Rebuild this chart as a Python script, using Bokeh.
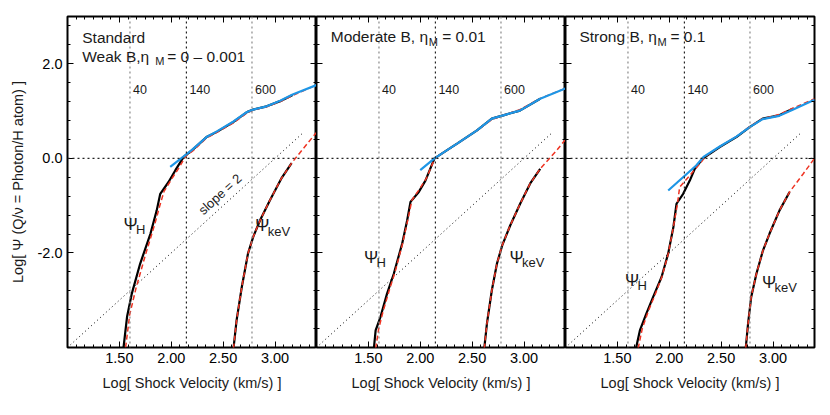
import numpy as np
from bokeh.plotting import figure
from bokeh.models import (Range1d, LinearAxis, FixedTicker, PrintfTickFormatter,
                          CustomJSTickFormatter, Span, Label)
from bokeh.layouts import row
from bokeh.embed import file_html
from bokeh.resources import INLINE

# ---------------- data ----------------
ref_velocities = [40, 140, 600]          # km/s, vertical guide lines
ref_labels = ["40", "140", "600"]
slope_x = [1.0, 3.26]
slope_y = [-4.0, 0.52]

x_major = [1.5, 2.0, 2.5, 3.0]
y_major = [-2.0, 0.0, 2.0]

# Panel 1: Standard, weak B
std_h_x = [1.54, 1.574, 1.62, 1.70, 1.80, 1.86, 1.894, 1.974, 2.04, 2.12, 2.20, 2.34, 2.44, 2.60, 2.73, 2.79, 2.92, 3.05, 3.17]
std_h_y = [-4.0, -3.35, -2.86, -2.23, -1.59, -1.10, -0.75, -0.50, -0.25, 0.03, 0.17, 0.45, 0.56, 0.77, 0.98, 1.03, 1.10, 1.21, 1.34]
std_hr_x = [1.56, 1.60, 1.66, 1.75, 1.84, 1.89, 1.93, 2.00, 2.08, 2.14, 2.22, 2.34, 2.44, 2.60, 2.73, 2.79, 2.92, 3.05, 3.20, 3.40]
std_hr_y = [-4.0, -3.30, -2.75, -2.05, -1.40, -1.00, -0.70, -0.45, -0.18, 0.05, 0.18, 0.43, 0.55, 0.75, 0.96, 1.02, 1.09, 1.20, 1.36, 1.55]
std_fit_x = [1.99, 2.12, 2.20, 2.34, 2.44, 2.60, 2.73, 2.79, 2.92, 3.05, 3.17, 3.40]
std_fit_y = [-0.18, 0.04, 0.18, 0.45, 0.57, 0.78, 0.98, 1.03, 1.10, 1.22, 1.35, 1.55]
std_k_x = [2.60, 2.63, 2.68, 2.74, 2.79, 2.856, 2.95, 3.06, 3.16]
std_k_y = [-4.02, -3.42, -2.72, -2.01, -1.66, -1.31, -0.89, -0.43, -0.10]
std_kr_x = [2.60, 2.63, 2.68, 2.74, 2.79, 2.856, 2.95, 3.06, 3.16, 3.27, 3.40]
std_kr_y = [-4.02, -3.42, -2.72, -2.01, -1.66, -1.31, -0.89, -0.43, -0.10, 0.20, 0.55]

# Panel 2: Moderate B
mod_h_x = [1.553, 1.57, 1.617, 1.68, 1.745, 1.826, 1.874, 1.906, 1.986, 2.05, 2.137, 2.355, 2.547, 2.69, 2.80, 2.96, 3.156]
mod_h_y = [-4.02, -3.64, -3.35, -2.86, -2.44, -1.80, -1.31, -0.92, -0.71, -0.47, 0.0, 0.31, 0.59, 0.84, 0.91, 1.01, 1.26]
mod_hr_x = [1.57, 1.60, 1.64, 1.70, 1.76, 1.83, 1.88, 1.92, 1.99, 2.06, 2.14, 2.355, 2.547, 2.69, 2.80, 2.96, 3.16, 3.40]
mod_hr_y = [-4.02, -3.60, -3.25, -2.80, -2.38, -1.80, -1.30, -0.88, -0.66, -0.42, 0.0, 0.31, 0.59, 0.82, 0.91, 1.03, 1.27, 1.48]
mod_fit_x = [2.00, 2.137, 2.355, 2.547, 2.69, 2.80, 2.96, 3.156, 3.40]
mod_fit_y = [-0.25, 0.0, 0.31, 0.59, 0.84, 0.91, 1.01, 1.26, 1.48]
mod_k_x = [2.617, 2.643, 2.69, 2.74, 2.79, 2.867, 2.963, 3.06, 3.156]
mod_k_y = [-4.02, -3.49, -2.79, -2.22, -1.84, -1.42, -0.96, -0.53, -0.22]
mod_kr_x = [2.617, 2.643, 2.69, 2.74, 2.79, 2.867, 2.963, 3.06, 3.156, 3.316, 3.40]
mod_kr_y = [-4.02, -3.49, -2.79, -2.22, -1.84, -1.42, -0.96, -0.53, -0.22, 0.17, 0.40]

# Panel 3: Strong B
str_h_x = [1.679, 1.717, 1.78, 1.845, 1.926, 1.99, 2.04, 2.07, 2.134, 2.198, 2.246, 2.326, 2.487, 2.647, 2.775, 2.90, 3.06, 3.19]
str_h_y = [-4.02, -3.64, -3.28, -2.93, -2.51, -2.01, -1.45, -0.96, -0.75, -0.47, -0.22, 0.0, 0.24, 0.45, 0.66, 0.84, 0.91, 1.05]
str_hr_x = [1.70, 1.74, 1.80, 1.86, 1.93, 1.99, 2.04, 2.08, 2.10, 2.23, 2.36, 2.487, 2.647, 2.775, 2.90, 3.06, 3.19, 3.40]
str_hr_y = [-4.02, -3.60, -3.22, -2.90, -2.50, -2.02, -1.45, -0.95, -0.61, -0.28, 0.06, 0.25, 0.46, 0.67, 0.84, 0.93, 1.06, 1.26]
str_fit_x = [1.99, 2.26, 2.33, 2.487, 2.647, 2.775, 2.90, 3.06, 3.19, 3.40]
str_fit_y = [-0.68, -0.15, 0.03, 0.25, 0.46, 0.66, 0.83, 0.90, 1.03, 1.24]
str_k_x = [2.737, 2.76, 2.79, 2.84, 2.903, 2.967, 3.063, 3.16]
str_k_y = [-4.02, -3.49, -2.93, -2.44, -1.95, -1.59, -1.10, -0.71]
str_kr_x = [2.737, 2.76, 2.79, 2.84, 2.903, 2.967, 3.063, 3.16, 3.29, 3.40]
str_kr_y = [-4.02, -3.49, -2.93, -2.44, -1.95, -1.59, -1.10, -0.71, -0.33, 0.0]

# ---------------- styling ----------------
FONT = "Liberation Sans"
TXT = "#1a1a1a"
BLACK = "#000000"
RED = "#ee3322"
BLUE = "#1e96e6"
X0, X1, Y0, Y1 = 1.0, 3.4, -4.0, 3.0
FW, FH = 249, 331

x_minor = [X0 + k / 12.0 for k in range(0, 29)]
y_minor = [Y0 + 0.4 * k for k in range(0, 18)]


def make_axis(ticker, fmt=None, show_labels=False, axis_label=None):
    ax = LinearAxis(ticker=ticker,
                    major_tick_in=6, major_tick_out=0,
                    minor_tick_in=3, minor_tick_out=0,
                    major_tick_line_color=BLACK, minor_tick_line_color=BLACK,
                    major_tick_line_width=1, minor_tick_line_width=1,
                    axis_line_color=None)
    if show_labels:
        ax.formatter = fmt
        ax.major_label_text_font = FONT
        ax.major_label_text_font_size = "14.5px"
        ax.major_label_text_color = BLACK
        ax.major_label_standoff = 5
    else:
        ax.formatter = CustomJSTickFormatter(code="return ''")
        ax.major_label_standoff = 0
    if axis_label:
        ax.axis_label = axis_label
        ax.axis_label_text_font = FONT
        ax.axis_label_text_font_size = "14.5px"
        ax.axis_label_text_font_style = "normal"
        ax.axis_label_text_color = TXT
        ax.axis_label_standoff = 9
    return ax


def label(p, x, y, text, size, dx=0, **kw):
    p.add_layout(Label(x=x, y=y, x_offset=dx, text=text, text_font=FONT,
                       text_font_size=size, text_color=TXT, **kw))


def make_panel(first, last, hx, hy, hrx, hry, fx, fy, kx, ky, krx, kry):
    p = figure(frame_width=FW, frame_height=FH,
               x_range=Range1d(X0, X1), y_range=Range1d(Y0, Y1),
               x_axis_type=None, y_axis_type=None,
               output_backend="svg", toolbar_location=None, tools="",
               min_border_left=67 if first else 0,
               min_border_right=14 if last else 0,
               min_border_top=16, min_border_bottom=55,
               background_fill_color="white", border_fill_color="white",
               outline_line_color=BLACK, outline_line_width=2)
    xt = FixedTicker(ticks=x_major, minor_ticks=x_minor)
    yt = FixedTicker(ticks=y_major, minor_ticks=y_minor)
    p.add_layout(make_axis(xt, PrintfTickFormatter(format="%.2f"), True,
                           "Log[ Shock Velocity (km/s) ]"), "below")
    p.add_layout(make_axis(xt), "above")
    if first:
        p.add_layout(make_axis(yt, PrintfTickFormatter(format="%.1f"), True,
                               "Log[ \u03a8 (Q/\u03bd = Photon/H atom) ]"), "left")
    else:
        p.add_layout(make_axis(yt), "left")
    p.add_layout(make_axis(yt), "right")

    # guide lines
    for v in ref_velocities:
        col = "#222222" if v == 140 else "#888888"
        p.add_layout(Span(location=float(np.log10(v)), dimension="height",
                          line_color=col, line_dash="2 3", line_width=1.2))
    p.add_layout(Span(location=0.0, dimension="width", line_color="#222222",
                      line_dash="2 3", line_width=1.2))
    for v, t in zip(ref_velocities, ref_labels):
        label(p, float(np.log10(v)), 1.37, t, "12.5px", dx=3)

    p.line(slope_x, slope_y, line_color=BLACK, line_dash="1 3", line_width=1)

    # curves
    p.line(hx, hy, line_color=BLACK, line_width=2.2)
    p.line(kx, ky, line_color=BLACK, line_width=2.2)
    p.line(hrx, hry, line_color=RED, line_width=1.5, line_dash="5 3")
    p.line(krx, kry, line_color=RED, line_width=1.5, line_dash="5 3")
    p.line(fx, fy, line_color=BLUE, line_width=2.2)
    return p


p1 = make_panel(True, False, std_h_x, std_h_y, std_hr_x, std_hr_y, std_fit_x, std_fit_y,
                std_k_x, std_k_y, std_kr_x, std_kr_y)
p2 = make_panel(False, False, mod_h_x, mod_h_y, mod_hr_x, mod_hr_y, mod_fit_x, mod_fit_y,
                mod_k_x, mod_k_y, mod_kr_x, mod_kr_y)
p3 = make_panel(False, True, str_h_x, str_h_y, str_hr_x, str_hr_y, str_fit_x, str_fit_y,
                str_k_x, str_k_y, str_kr_x, str_kr_y)

# panel titles
label(p1, 1.142, 2.37, "Standard", "15.5px")
label(p1, 1.142, 1.97, "Weak B,\u03b7", "15.5px")
label(p1, 1.142, 1.93, "M", "11px", dx=73)
label(p1, 1.142, 1.97, "= 0 \u2013 0.001", "15.5px", dx=85)

label(p2, 1.137, 2.39, "Moderate B, \u03b7", "15.5px")
label(p2, 1.137, 2.33, "M", "11px", dx=98)
label(p2, 1.137, 2.39, "= 0.01", "15.5px", dx=111.5)

label(p3, 1.134, 2.39, "Strong B, \u03b7", "15.5px")
label(p3, 1.134, 2.33, "M", "11px", dx=78)
label(p3, 1.134, 2.39, "= 0.1", "15.5px", dx=91)

# Psi labels
for p, hxy, kxy in [(p1, (1.54, -1.59), (2.81, -1.63)),
                    (p2, (1.457, -2.30), (2.86, -2.30)),
                    (p3, (1.573, -2.79), (2.893, -2.83))]:
    label(p, hxy[0], hxy[1], "\u03a8", "17px")
    label(p, hxy[0], hxy[1] - 0.065, "H", "13px", dx=12.5)
    label(p, kxy[0], kxy[1], "\u03a8", "17px")
    label(p, kxy[0], kxy[1] - 0.065, "keV", "13px", dx=12.5)

label(p1, 2.47, -0.76, "slope = 2", "13px", angle=42.3, angle_units="deg",
      text_align="center", text_baseline="middle")

layout = row(p1, p2, p3)
open("out.html", "w").write(file_html(layout, INLINE))
